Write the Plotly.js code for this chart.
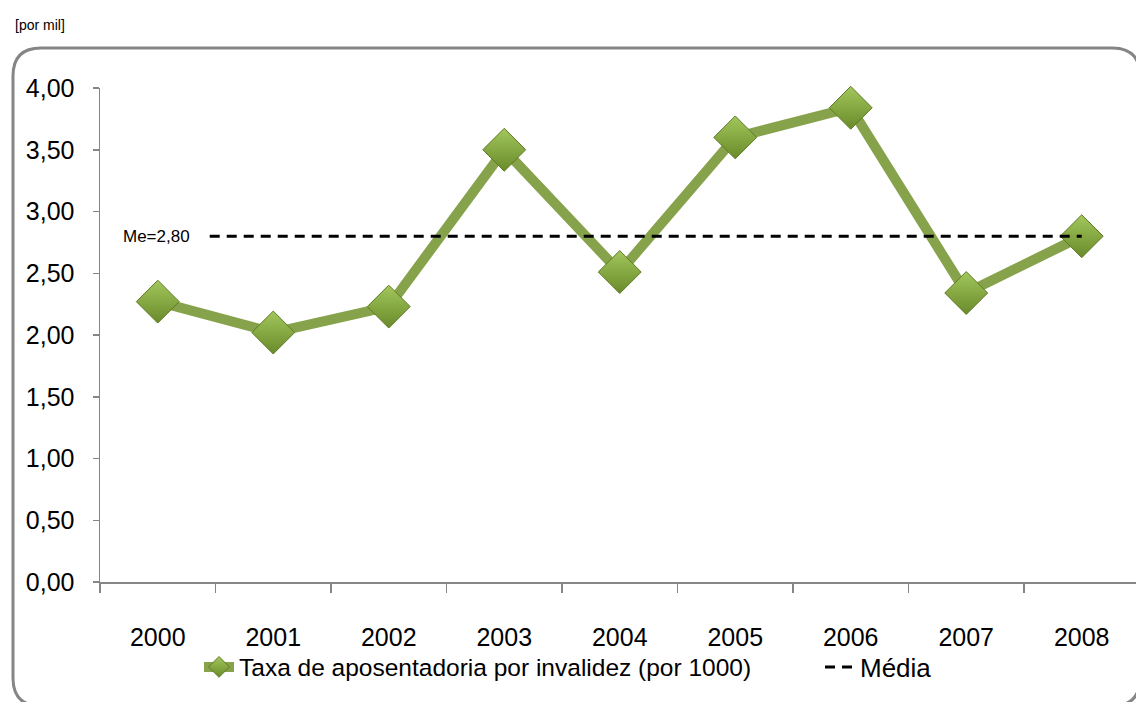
<!DOCTYPE html>
<html>
<head>
<meta charset="utf-8">
<script src="https://cdn.plot.ly/plotly-3.0.1.min.js"></script>
<style>html,body{margin:0;padding:0;background:#fff;}#chart{width:1136px;height:702px;}</style>
</head>
<body>
<div id="chart"></div>
<script>
const years = ['2000','2001','2002','2003','2004','2005','2006','2007','2008'];
const taxa = [2.27, 2.02, 2.23, 3.50, 2.51, 3.60, 3.84, 2.34, 2.80];
const media = 2.80;
const mediaX = [0.45, 8];
const yTicks = [0, 0.5, 1, 1.5, 2, 2.5, 3, 3.5, 4];

const W = 1136, H = 702, L = 100, R = 0, T = 88, B = 120;
const pw = W - L - R, ph = H - T - B;
const px = v => +((v - L) / pw).toFixed(5);
const py = v => +((H - B - v) / ph).toFixed(5);

function roundRect(x0, y0, x1, y1, r) {
  return 'M' + px(x0 + r) + ',' + py(y0) +
    ' L' + px(x1 - r) + ',' + py(y0) +
    ' Q' + px(x1) + ',' + py(y0) + ' ' + px(x1) + ',' + py(y0 + r) +
    ' L' + px(x1) + ',' + py(y1 - r) +
    ' Q' + px(x1) + ',' + py(y1) + ' ' + px(x1 - r) + ',' + py(y1) +
    ' L' + px(x0 + r) + ',' + py(y1) +
    ' Q' + px(x0) + ',' + py(y1) + ' ' + px(x0) + ',' + py(y1 - r) +
    ' L' + px(x0) + ',' + py(y0 + r) +
    ' Q' + px(x0) + ',' + py(y0) + ' ' + px(x0 + r) + ',' + py(y0) + ' Z';
}

const tickFont = {family: 'Liberation Sans, Arial, sans-serif', size: 25, color: '#000'};
const legFont = {family: 'Liberation Sans, Arial, sans-serif', size: 24.5, color: '#000'};

const traces = [
  {
    x: years.map((_, i) => i), y: taxa, type: 'scatter', mode: 'lines+markers',
    name: 'Taxa de aposentadoria por invalidez (por 1000)',
    line: {color: '#86a24b', width: 10},
    marker: {symbol: 'diamond', size: 33, color: '#a2c75c',
      gradient: {type: 'vertical', color: '#6a8a2a'},
      line: {color: '#5e7a25', width: 1}},
    cliponaxis: false, legend: 'legend'
  },
  {
    x: mediaX, y: [media, media], type: 'scatter', mode: 'lines',
    name: 'Média',
    line: {color: '#000', width: 3, dash: '10px,7px'},
    legend: 'legend2'
  }
];

const layout = {
  width: W, height: H,
  margin: {l: L, r: R, t: T, b: B, pad: 0},
  paper_bgcolor: '#fff', plot_bgcolor: '#fff',
  separators: ', ',
  showlegend: true,
  legend: {orientation: 'h', x: px(199), xanchor: 'left', y: py(667), yanchor: 'middle',
    font: legFont, bgcolor: 'rgba(0,0,0,0)', itemwidth: 30},
  legend2: {orientation: 'h', x: px(820), xanchor: 'left', y: py(667), yanchor: 'middle',
    font: {family: 'Liberation Sans, Arial, sans-serif', size: 26, color: '#000'}, bgcolor: 'rgba(0,0,0,0)', itemwidth: 30},
  xaxis: {
    range: [-0.5, 8.47], tickvals: years.map((_, i) => i), ticktext: years,
    ticks: '', showline: true, linecolor: '#868686', linewidth: 1.5,
    showgrid: false, zeroline: false, tickfont: tickFont, ticklabelstandoff: 32,
    minor: {tickvals: years.map((_, i) => i - 0.5), ticks: 'outside', ticklen: 9, tickcolor: '#868686', tickwidth: 1.5, showgrid: false},
    fixedrange: true
  },
  yaxis: {
    range: [0, 4], tickvals: yTicks, tickformat: '.2f',
    ticks: 'outside', ticklen: 6, tickcolor: '#868686', tickwidth: 1.5,
    showline: true, linecolor: '#868686', linewidth: 1.5,
    showgrid: false, zeroline: false, tickfont: tickFont, ticklabelstandoff: 13,
    fixedrange: true
  },
  shapes: [
    {type: 'path', xref: 'paper', yref: 'paper', path: roundRect(13, 48, 1140, 706, 28),
     line: {color: '#858585', width: 3}, fillcolor: 'rgba(0,0,0,0)', layer: 'below'}
  ],
  annotations: [
    {xref: 'paper', yref: 'paper', x: px(13), y: py(25), xanchor: 'left', yanchor: 'middle',
     text: '[por mil]', showarrow: false, font: {family: 'Liberation Sans, Arial, sans-serif', size: 14, color: '#000'}},
    {xref: 'paper', yref: 'y', x: px(121), y: media, xanchor: 'left', yanchor: 'middle',
     text: 'Me=' + media.toFixed(2).replace('.', ','), showarrow: false,
     font: {family: 'Liberation Sans, Arial, sans-serif', size: 17, color: '#000'}}
  ]
};

Plotly.newPlot('chart', traces, layout, {displayModeBar: false, staticPlot: true});
</script>
</body>
</html>
